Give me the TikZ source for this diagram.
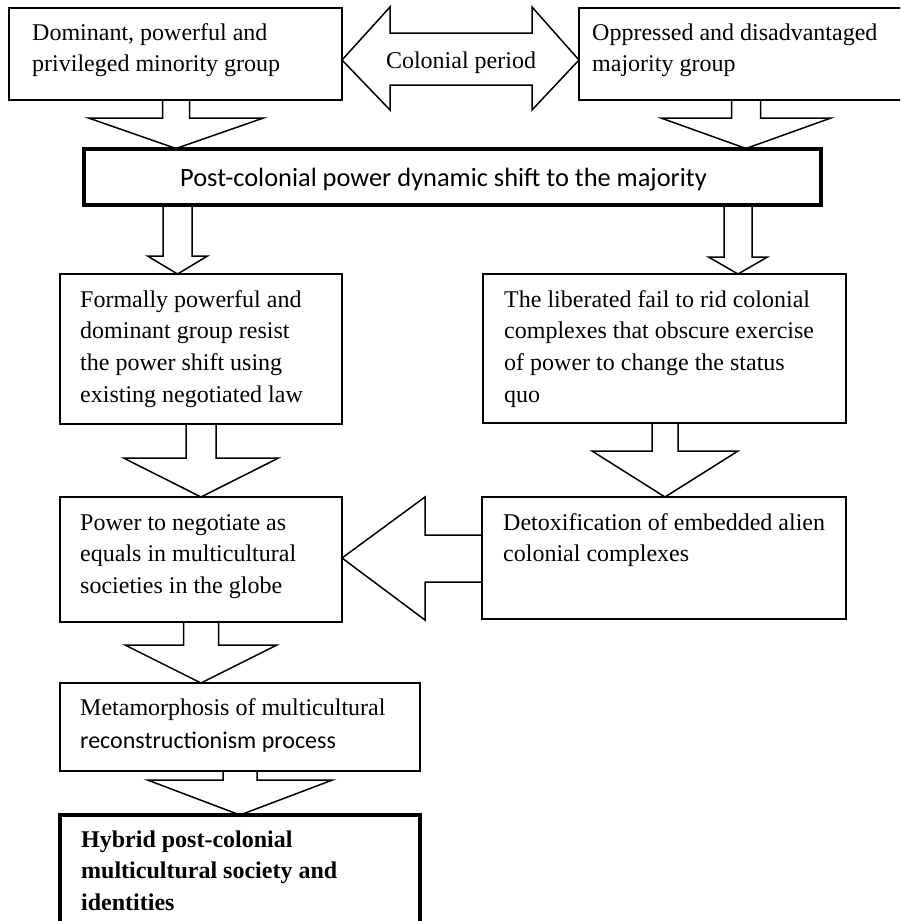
\documentclass[tikz,border=0pt]{standalone}
\usepackage{fontspec}
\setmainfont{Liberation Serif}
\newfontfamily\carlito{Carlito}
\tikzset{
  box/.style={draw, line width=1.5pt, fill=white, inner sep=0pt, outer sep=0pt},
  thickbox/.style={draw, line width=4pt, fill=white, inner sep=0pt, outer sep=0pt},
  arrowline/.style={draw, line width=1.5pt, line join=miter},
  boxtext/.style={anchor=north west, inner sep=0pt, align=left, font=\fontsize{24}{31.7}\selectfont},
}
\newcommand{\blkdown}[6]{\draw[arrowline] ({#3-#4},0 |- #1.south) -- ({#3-#4},#5) -- ({#3-#6},#5) -- (#3,0 |- #2.north) -- ({#3+#6},#5) -- ({#3+#4},#5) -- ({#3+#4},0 |- #1.south);}
\begin{document}
\begin{tikzpicture}[x=1pt,y=-1pt]
\useasboundingbox (0,0) rectangle (900,921);
\clip (0,0) rectangle (900,921);
% boxes
\node[box, minimum width=333pt, minimum height=92pt] (b1) at (175.5,54) {};
\node[box, minimum width=331pt, minimum height=92pt] (b2) at (744.5,54) {};
\node[thickbox, minimum width=737pt, minimum height=56.5pt] (big) at (452.5,176.75) {};
\node[box, minimum width=282pt, minimum height=150pt] (b3) at (201,349) {};
\node[box, minimum width=363pt, minimum height=149pt] (b4) at (664.5,348.5) {};
\node[box, minimum width=282pt, minimum height=125pt] (b5) at (201,559.5) {};
\node[box, minimum width=364pt, minimum height=122pt] (b6) at (664,558) {};
\node[box, minimum width=360pt, minimum height=88pt] (b7) at (240,727) {};
\node[thickbox, minimum width=360pt, minimum height=130pt] (b8) at (240,880) {};
% double arrow
\draw[arrowline, fill=white] (b1.east |- 0,60) -- (390,7) -- (390,33) -- (532,33) -- (532,7) -- (b2.west |- 0,60) -- (532,110) -- (532,85) -- (390,85) -- (390,110) -- cycle;
\node[font=\fontsize{24}{28}\selectfont, anchor=base, inner sep=0pt] (cp) at (461,68) {Colonial period};
% down arrows
\blkdown{b1}{big}{176}{13.5}{118}{87.5}
\blkdown{b2}{big}{746}{14.5}{118}{85}
\blkdown{big}{b3}{177.5}{14.5}{256}{30}
\blkdown{big}{b4}{738}{14}{257}{29.5}
\blkdown{b3}{b5}{201}{15}{458}{77.5}
\blkdown{b4}{b6}{665}{13}{451}{73}
\blkdown{b5}{b7}{201}{17.5}{645}{76}
\blkdown{b7}{b8}{240}{17}{780}{92.5}
% left arrow
\draw[arrowline] (b6.west |- 0,535) -- (425,535) -- (425,497) -- (b5.east |- 0,558) -- (425,620) -- (425,582) -- (b6.west |- 0,582);
% texts
\node[boxtext] (t1) at (32,17.8) {\strut Dominant, powerful and\\privileged minority group};
\node[boxtext] (t2) at (592,17.8) {\strut Oppressed and disadvantaged\\majority group};
\node[font=\carlito\fontsize{26.4}{31}\selectfont, anchor=base west, inner sep=0pt] (bt) at (180,186) {Post-colonial power dynamic shift to the majority};
\node[boxtext] (t3) at (80,284.8) {\strut Formally powerful and\\dominant group resist\\the power shift using\\existing negotiated law};
\node[boxtext] (t4) at (504,284.8) {\strut The liberated fail to rid colonial\\complexes that obscure exercise\\of power to change the status\\quo};
\node[boxtext] (t5) at (80,507.8) {\strut Power to negotiate as\\equals in multicultural\\societies in the globe};
\node[boxtext] (t6) at (503,507.8) {\strut Detoxification of embedded alien\\colonial complexes};
\node[boxtext] (t7) at (80,692.8) {\strut Metamorphosis of multicultural\\[1.3pt]{\carlito reconstructionism process}};
\node[boxtext, font=\bfseries\fontsize{24}{31.7}\selectfont] (t8) at (81,824.8) {\strut Hybrid post-colonial\\multicultural society and\\identities};
\end{tikzpicture}
\end{document}
